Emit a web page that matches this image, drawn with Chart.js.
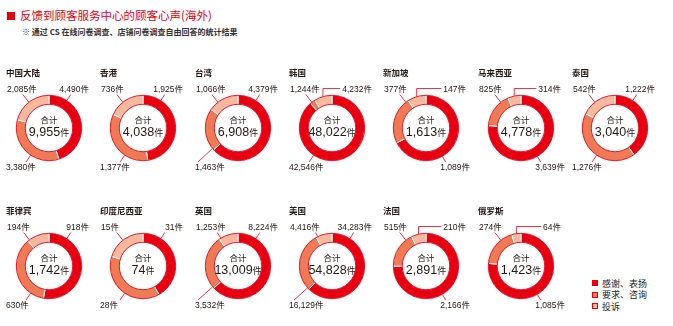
<!DOCTYPE html>
<html>
<head>
<meta charset="utf-8">
<script src="https://cdn.jsdelivr.net/npm/chart.js@4.4.1/dist/chart.umd.min.js"></script>
<style>
  body { margin: 0; width: 673px; height: 326px; background: #fff; position: relative; overflow: hidden;
         font-family: "Liberation Sans", "Noto Sans CJK SC", sans-serif; color: #231815; }
  #mark { position: absolute; left: 7px; top: 12px; width: 8px; height: 8px; background: #e60012; }
  #title { position: absolute; left: 20px; top: 9px; font: 11.5px/13px "Noto Sans CJK SC"; color: #e60012; white-space: nowrap; }
  #note { position: absolute; left: 22px; top: 27px; font: bold 8px/10px "Noto Sans CJK SC"; color: #333; white-space: nowrap; }
  canvas { position: absolute; }
  .key { position: absolute; left: 592px; font: 9px/11px "Noto Sans CJK SC"; white-space: nowrap; }
  .key i { display: inline-block; width: 6px; height: 6px; box-sizing: border-box; border: 1px solid #e60012;
           vertical-align: middle; margin: -2px 4px 0 0; }
</style>
</head>
<body>
<div id="mark"></div>
<div id="title">反馈到顾客服务中心的顾客心声(海外)</div>
<div id="note">※ 通过 CS 在线问卷调查、店铺问卷调查自由回答的统计结果</div>
<div id="legend"></div>
<script>
// 各地区意见件数
const regions = ['中国大陆', '香港', '台湾', '韩国', '新加坡', '马来西亚', '泰国',
                 '菲律宾', '印度尼西亚', '英国', '美国', '法国', '俄罗斯'];
const categories = ['感谢、表扬', '要求、咨询', '投诉'];
const praise     = [4490, 1925, 4379, 42546, 1089, 3639, 1222, 918, 31, 8224, 34283, 2166, 1085];
const requests   = [3380, 1377, 1463, 1244, 377, 825, 1276, 630, 28, 3532, 16129, 515, 274];
const complaints = [2085, 736, 1066, 4232, 147, 314, 542, 194, 15, 1253, 4416, 210, 64];

const colors = ['#e60012', '#ee7b55', '#f5b9a0'];
const RED = '#e60012';
const INK = '#231815';

// where each segment's label sits: tl / tr / bl / br, "elbow" = bent leader to upper right
const labelSlots = [
  ['tr', 'bl', 'tl'], ['tr', 'bl', 'tl'], ['tr', 'bl', 'tl'], ['bl', 'tl', 'elbow'],
  ['br', 'tl', 'elbow'], ['br', 'tl', 'elbow'], ['tr', 'bl', 'tl'],
  ['tr', 'bl', 'tl'], ['tr', 'bl', 'tl'], ['tr', 'bl', 'tl'], ['tr', 'bl', 'tl'],
  ['br', 'tl', 'elbow'], ['br', 'tl', 'elbow']
];

const SLOT = {
  tl: { angle: 322, tx: -42, ty: -38, align: 'left',  ey: -33.5, ex: [-36, -16] },
  tr: { angle: 33,  tx: 40,  ty: -38, align: 'right', ey: -33.5, ex: [16, 36] },
  bl: { angle: 214, tx: -43, ty: 40,  align: 'left',  ey: 34,    ex: [-40, -16] },
  br: { angle: 150, tx: 44,  ty: 40,  align: 'right', ey: 34,    ex: [16, 40] }
};

const fmt = v => v.toLocaleString('en-US');
const LABEL_FONT = '8.5px "Liberation Sans", "Noto Sans CJK SC"';

function ringPoint(r, deg) {
  const a = deg * Math.PI / 180;
  return [r * Math.sin(a), -r * Math.cos(a)];
}

const ringDecor = {
  id: 'ringDecor',
  afterDatasetsDraw(chart, args, opts) {
    const ctx = chart.ctx;
    const meta = chart.getDatasetMeta(0);
    const first = meta.data[0];
    const cx = first.x, cy = first.y;
    const rOut = first.outerRadius, rIn = first.innerRadius;
    const values = chart.data.datasets[0].data;

    ctx.save();
    // thin red outline round the ring
    ctx.strokeStyle = RED;
    ctx.lineWidth = 0.9;
    ctx.beginPath(); ctx.arc(cx, cy, rOut - 0.3, 0, Math.PI * 2); ctx.stroke();
    ctx.beginPath(); ctx.arc(cx, cy, rIn + 0.3, 0, Math.PI * 2); ctx.stroke();

    // region name
    ctx.fillStyle = INK;
    ctx.textBaseline = 'middle';
    ctx.textAlign = 'left';
    ctx.font = 'bold 8.5px "Noto Sans CJK SC"';
    ctx.fillText(opts.name, cx - 43, cy - 55.5);

    // total in the hole
    ctx.textAlign = 'center';
    ctx.font = '8.5px "Noto Sans CJK SC"';
    ctx.fillText('合计', cx, cy - 8.5);
    const total = values.reduce((a, b) => a + b, 0);
    const num = fmt(total);
    ctx.font = '12.5px "Liberation Sans"';
    const wNum = ctx.measureText(num).width;
    ctx.font = '9px "Noto Sans CJK SC"';
    const wUnit = ctx.measureText('件').width;
    let x0 = cx - (wNum + wUnit) / 2;
    ctx.textAlign = 'left';
    ctx.textBaseline = 'alphabetic';
    ctx.font = '12.5px "Liberation Sans"';
    ctx.fillText(num, x0, cy + 7.5);
    ctx.font = '9px "Noto Sans CJK SC"';
    ctx.fillText('件', x0 + wNum, cy + 7.5);

    // segment labels with leader lines
    ctx.font = LABEL_FONT;
    ctx.textBaseline = 'middle';
    ctx.lineWidth = 0.8;
    opts.slots.forEach((slot, i) => {
      const arc = meta.data[i];
      const s = (arc.startAngle + Math.PI / 2) * 180 / Math.PI;
      const e = (arc.endAngle + Math.PI / 2) * 180 / Math.PI;
      const text = fmt(values[i]) + '件';
      const tw = ctx.measureText(text).width;
      ctx.strokeStyle = RED;
      ctx.beginPath();
      if (slot === 'elbow') {
        const [px, py] = ringPoint(rOut, (s + e) / 2);
        const left = 40 - tw;
        ctx.moveTo(cx + px, cy + py);
        ctx.lineTo(cx + px, cy - 39.5);
        ctx.lineTo(cx + left - 2, cy - 39.5);
        ctx.stroke();
        ctx.textAlign = 'right';
        ctx.fillStyle = INK;
        ctx.fillText(text, cx + 40, cy - 38);
        return;
      }
      const sp = SLOT[slot];
      const lo = s + 3, hi = e - 3;
      const theta = lo > hi ? (s + e) / 2 : Math.min(Math.max(sp.angle, lo), hi);
      const [px, py] = ringPoint(rOut, theta);
      const c = -Math.cos(theta * Math.PI / 180);
      let r = Math.abs(c) > 0.05 ? sp.ey / c : rOut + 6;
      if (!(r > rOut + 3)) r = rOut + 3;
      let ex = r * Math.sin(theta * Math.PI / 180);
      ex = Math.min(Math.max(ex, sp.ex[0]), sp.ex[1]);
      ctx.moveTo(cx + px, cy + py);
      ctx.lineTo(cx + ex, cy + sp.ey);
      ctx.stroke();
      ctx.textAlign = sp.align;
      ctx.fillStyle = INK;
      ctx.fillText(text, cx + sp.tx, cy + sp.ty);
    });
    ctx.restore();
  }
};

const W = 94, H = 120, CX = 47, CY = 64;

regions.forEach((name, i) => {
  const row = i < 7 ? 0 : 1;
  const col = row ? i - 7 : i;
  const cx = 49 + col * 94.3;
  const cy = row ? 266 : 127.5;

  const canvas = document.createElement('canvas');
  canvas.width = W;
  canvas.height = H;
  canvas.style.left = (cx - CX) + 'px';
  canvas.style.top = (cy - CY) + 'px';
  document.body.appendChild(canvas);

  new Chart(canvas, {
    type: 'doughnut',
    data: {
      labels: categories,
      datasets: [{
        data: [praise[i], requests[i], complaints[i]],
        backgroundColor: colors,
        borderColor: '#fff',
        borderWidth: 1
      }]
    },
    options: {
      responsive: false,
      animation: false,
      devicePixelRatio: 1,
      events: [],
      cutout: '71%',
      radius: 33,
      layout: { padding: { left: CX - 34, right: W - CX - 34, top: CY - 34, bottom: H - CY - 34 } },
      plugins: {
        legend: { display: false },
        tooltip: { enabled: false },
        ringDecor: { name: name, slots: labelSlots[i] }
      }
    },
    plugins: [ringDecor]
  });
});

// legend, bottom right
const legend = document.getElementById('legend');
categories.forEach((c, k) => {
  const d = document.createElement('div');
  d.className = 'key';
  d.style.top = (277.5 + k * 11.6) + 'px';
  d.innerHTML = '<i style="background:' + colors[k] + '"></i>' + c;
  legend.appendChild(d);
});
</script>
</body>
</html>
